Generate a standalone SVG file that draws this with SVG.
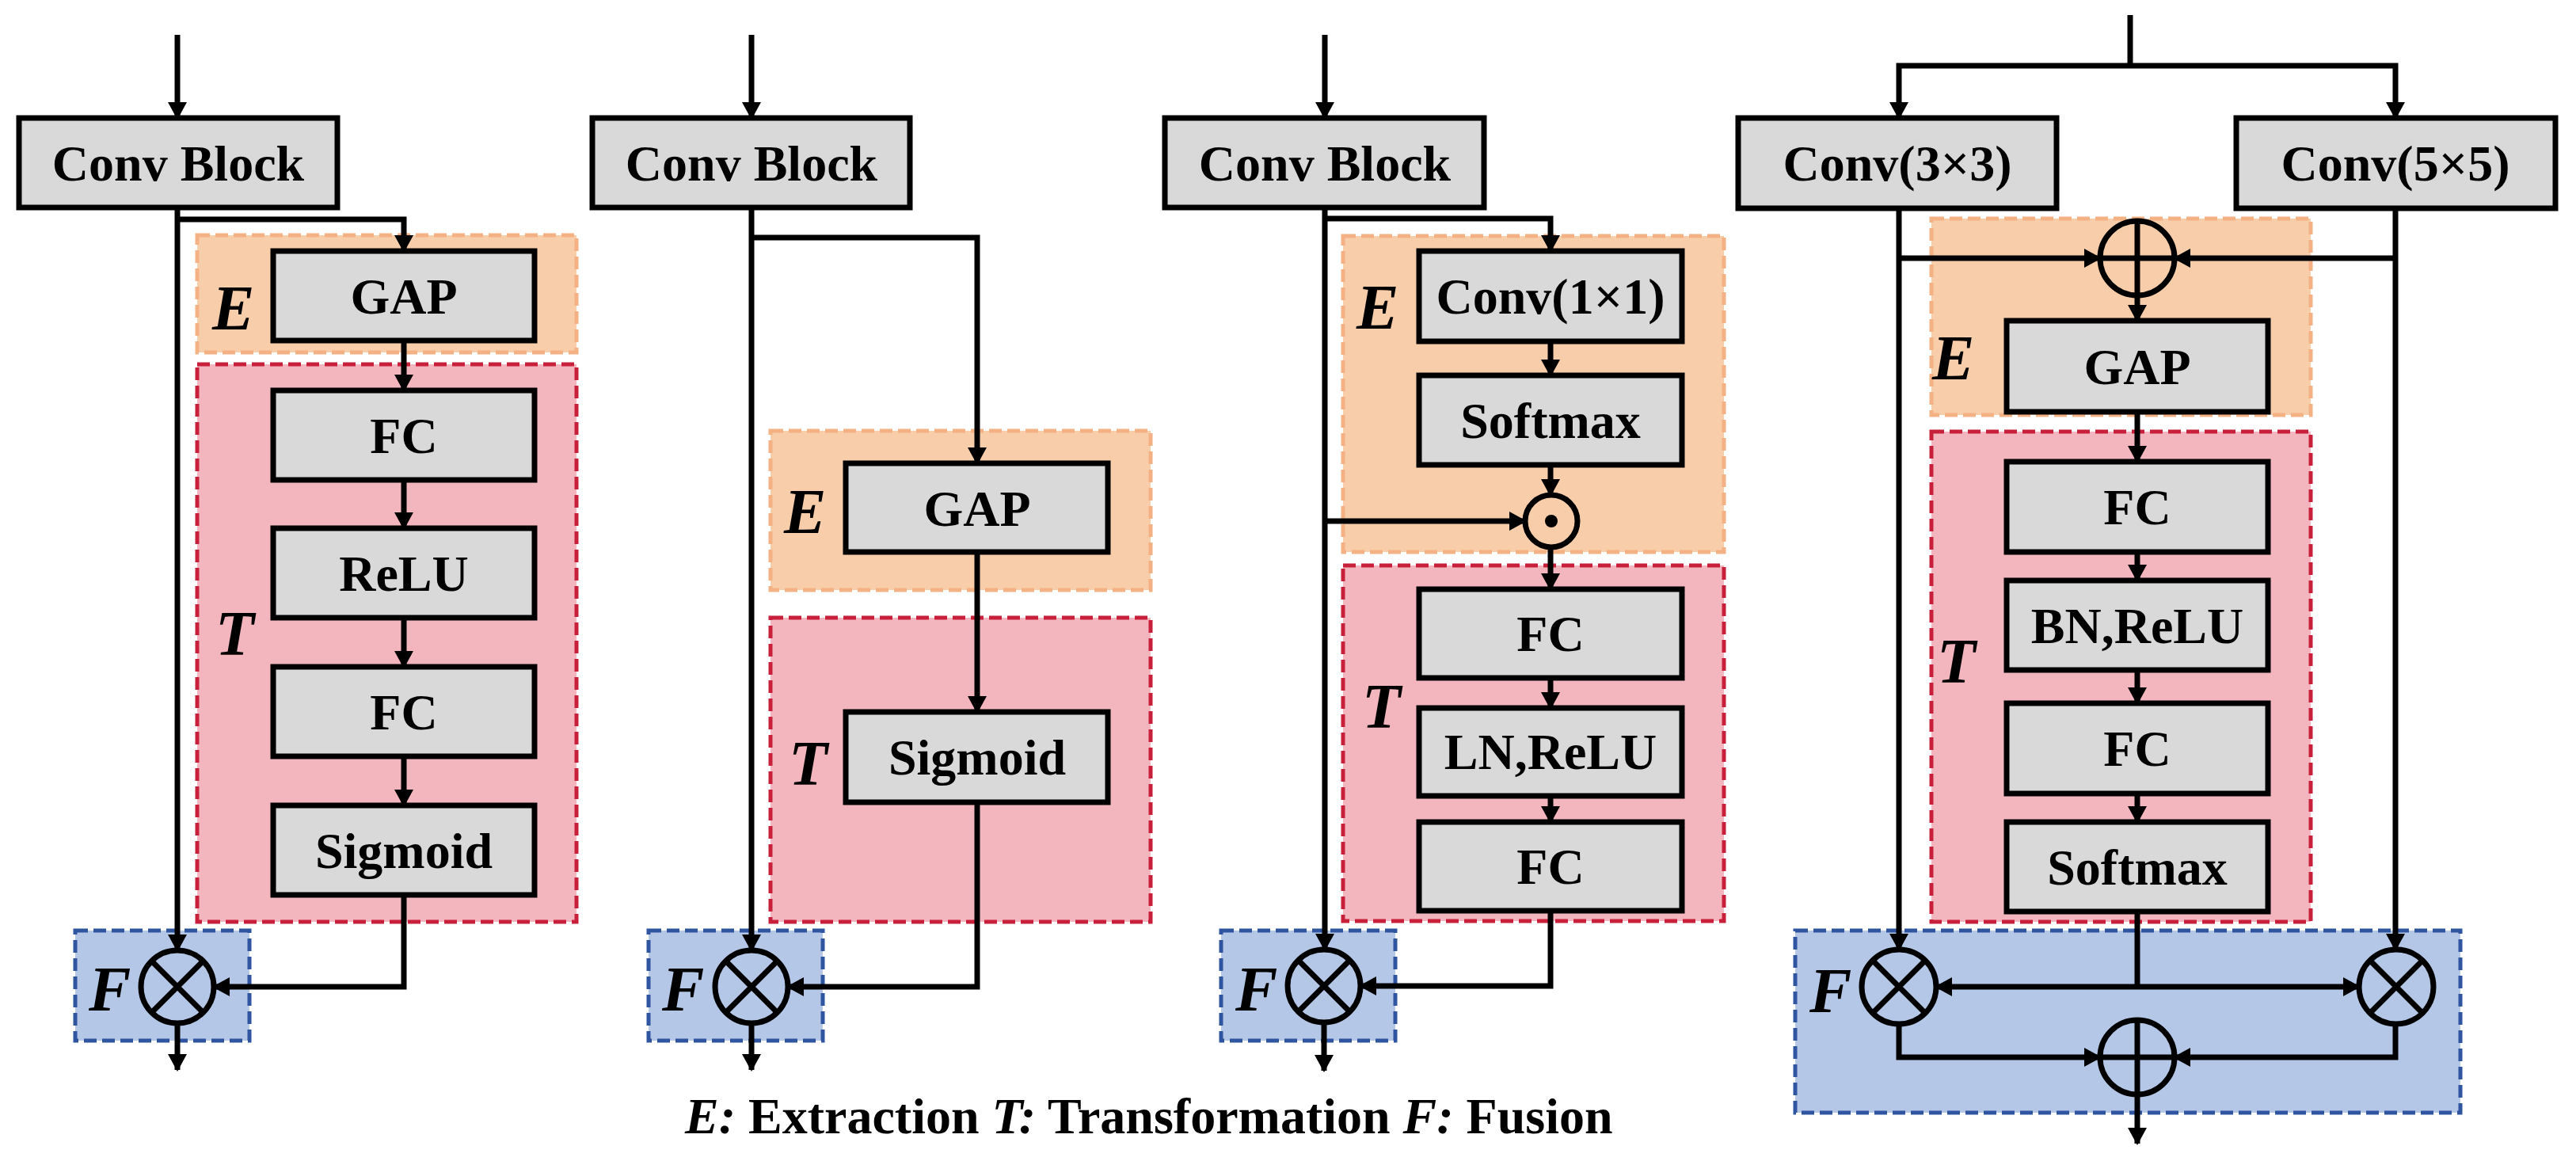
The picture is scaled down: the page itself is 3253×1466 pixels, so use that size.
<svg xmlns="http://www.w3.org/2000/svg" width="3253" height="1466" viewBox="0 0 3253 1466">
<style>
.bx{fill:#d9d9d9;stroke:#000;stroke-width:7}
.e{fill:#f8cdaa;stroke:#f4b183;stroke-width:5;stroke-dasharray:16 7}
.t{fill:#f4b6be;stroke:#c8203a;stroke-width:5;stroke-dasharray:16 7}
.f{fill:#b4c7e7;stroke:#2f55a0;stroke-width:5;stroke-dasharray:16 7}
.ln{fill:none;stroke:#000;stroke-width:7}
.ar{fill:none;stroke:#000;stroke-width:7;marker-end:url(#ah)}
.op{fill:none;stroke:#000;stroke-width:7}
.lb{font-family:"Liberation Serif","Times New Roman",serif;font-weight:bold;font-size:64px;text-anchor:middle}
.it{font-family:"Liberation Serif","Times New Roman",serif;font-weight:bold;font-style:italic;font-size:80px}
.cap{font-family:"Liberation Serif","Times New Roman",serif;font-weight:bold;font-size:64px}
</style>
<defs>
<marker id="ah" markerUnits="userSpaceOnUse" markerWidth="22" markerHeight="24" refX="20" refY="12" orient="auto">
<path d="M0,0 L22,12 L0,24 z" fill="#000"/>
</marker>
</defs>

<g id="regions">
<rect class="e" x="249" y="297" width="479" height="148"/>
<rect class="t" x="249" y="460" width="479" height="704"/>
<rect class="f" x="95" y="1175" width="220" height="139"/>
<rect class="e" x="973" y="544" width="480" height="201"/>
<rect class="t" x="973" y="780" width="480" height="384"/>
<rect class="f" x="819" y="1175" width="220" height="139"/>
<rect class="e" x="1696" y="298" width="481" height="399"/>
<rect class="t" x="1696" y="714" width="481" height="449"/>
<rect class="f" x="1542" y="1175" width="220" height="139"/>
<rect class="e" x="2439" y="276" width="479" height="248"/>
<rect class="t" x="2439" y="545" width="479" height="619"/>
<rect class="f" x="2267" y="1175" width="840" height="230"/>
</g>

<g id="connectors">
<path class="ar" d="M224,44 V149"/>
<path class="ar" d="M224,262 V1200"/>
<path class="ar" d="M224,277 H510 V317"/>
<path class="ar" d="M510,430 V493"/>
<path class="ar" d="M510,606 V667"/>
<path class="ar" d="M510,780 V842"/>
<path class="ar" d="M510,955 V1017"/>
<path class="ar" d="M510,1130 V1246 H270"/>
<path class="ar" d="M224,1292 V1351"/>

<path class="ar" d="M949,44 V149"/>
<path class="ar" d="M949,262 V1200"/>
<path class="ar" d="M949,300 H1234 V585"/>
<path class="ar" d="M1234,697 V899"/>
<path class="ar" d="M1234,1013 V1246 H995"/>
<path class="ar" d="M949,1292 V1351"/>

<path class="ar" d="M1673,44 V149"/>
<path class="ar" d="M1673,262 V1199"/>
<path class="ar" d="M1673,276 H1958 V317"/>
<path class="ar" d="M1958,431 V474"/>
<path class="ar" d="M1958,587 V625"/>
<path class="ar" d="M1673,658 H1926"/>
<path class="ar" d="M1958,691 V744"/>
<path class="ar" d="M1958,856 V894"/>
<path class="ar" d="M1958,1005 V1038"/>
<path class="ar" d="M1958,1150 V1245 H1718"/>
<path class="ar" d="M1672,1291 V1352"/>

<path class="ln" d="M2690,19 V83"/>
<path class="ar" d="M2690,83 H2398 V149"/>
<path class="ar" d="M2690,83 H3025 V149"/>
<path class="ar" d="M2398,263 V1199"/>
<path class="ar" d="M3025,263 V1199"/>
<path class="ar" d="M2398,326 H2652"/>
<path class="ar" d="M3025,326 H2746"/>
<path class="ar" d="M2699,373 V405"/>
<path class="ar" d="M2699,520 V583"/>
<path class="ar" d="M2699,697 V733"/>
<path class="ar" d="M2699,846 V888"/>
<path class="ar" d="M2699,1002 V1038"/>
<path class="ln" d="M2699,1151 V1246"/>
<path class="ar" d="M2699,1246 H2445"/>
<path class="ar" d="M2699,1246 H2979"/>
<path class="ar" d="M2398,1293 V1335 H2652"/>
<path class="ar" d="M3025,1293 V1335 H2746"/>
<path class="ar" d="M2699,1382 V1444"/>
</g>

<g id="panel1">
<rect class="bx" x="24" y="149" width="402" height="113"/><text class="lb" x="225" y="228">Conv Block</text>
<rect class="bx" x="345" y="317" width="330" height="113"/><text class="lb" x="510" y="396">GAP</text>
<rect class="bx" x="345" y="493" width="330" height="113"/><text class="lb" x="510" y="572">FC</text>
<rect class="bx" x="345" y="667" width="330" height="113"/><text class="lb" x="510" y="746">ReLU</text>
<rect class="bx" x="345" y="842" width="330" height="113"/><text class="lb" x="510" y="921">FC</text>
<rect class="bx" x="345" y="1017" width="330" height="113"/><text class="lb" x="510" y="1096">Sigmoid</text>
<circle class="op" cx="224" cy="1246" r="46"/><path class="op" d="M191.5,1213.5 L256.5,1278.5 M256.5,1213.5 L191.5,1278.5"/>
<text class="it" x="268" y="416">E</text><text class="it" x="272" y="827">T</text><text class="it" x="112" y="1276">F</text>
</g>

<g id="panel2">
<rect class="bx" x="748" y="149" width="401" height="113"/><text class="lb" x="949" y="228">Conv Block</text>
<rect class="bx" x="1068" y="585" width="331" height="112"/><text class="lb" x="1234" y="664">GAP</text>
<rect class="bx" x="1068" y="899" width="331" height="114"/><text class="lb" x="1234" y="978">Sigmoid</text>
<circle class="op" cx="949" cy="1246" r="46"/><path class="op" d="M916.5,1213.5 L981.5,1278.5 M981.5,1213.5 L916.5,1278.5"/>
<text class="it" x="990" y="673">E</text><text class="it" x="996" y="991">T</text><text class="it" x="836" y="1276">F</text>
</g>

<g id="panel3">
<rect class="bx" x="1471" y="149" width="403" height="113"/><text class="lb" x="1673" y="228">Conv Block</text>
<rect class="bx" x="1792" y="317" width="332" height="114"/><text class="lb" x="1958" y="396">Conv(1×1)</text>
<rect class="bx" x="1792" y="474" width="332" height="113"/><text class="lb" x="1958" y="553">Softmax</text>
<circle class="op" cx="1959" cy="658" r="33"/><circle cx="1959" cy="658" r="8" fill="#000"/>
<rect class="bx" x="1792" y="744" width="332" height="112"/><text class="lb" x="1958" y="822">FC</text>
<rect class="bx" x="1792" y="894" width="332" height="111"/><text class="lb" x="1958" y="971">LN,ReLU</text>
<rect class="bx" x="1792" y="1038" width="332" height="112"/><text class="lb" x="1958" y="1116">FC</text>
<circle class="op" cx="1672" cy="1245" r="46"/><path class="op" d="M1639.5,1212.5 L1704.5,1277.5 M1704.5,1212.5 L1639.5,1277.5"/>
<text class="it" x="1713" y="415">E</text><text class="it" x="1720" y="919">T</text><text class="it" x="1560" y="1276">F</text>
</g>

<g id="panel4">
<rect class="bx" x="2195" y="149" width="402" height="114"/><text class="lb" x="2396" y="228">Conv(3×3)</text>
<rect class="bx" x="2824" y="149" width="403" height="114"/><text class="lb" x="3025" y="228">Conv(5×5)</text>
<circle class="op" cx="2699" cy="326" r="47"/><path class="op" d="M2652,326 H2746 M2699,279 V373"/>
<rect class="bx" x="2534" y="405" width="330" height="115"/><text class="lb" x="2699" y="485">GAP</text>
<rect class="bx" x="2534" y="583" width="330" height="114"/><text class="lb" x="2699" y="662">FC</text>
<rect class="bx" x="2534" y="733" width="330" height="113"/><text class="lb" x="2699" y="812">BN,ReLU</text>
<rect class="bx" x="2534" y="888" width="330" height="114"/><text class="lb" x="2699" y="967">FC</text>
<rect class="bx" x="2534" y="1038" width="330" height="113"/><text class="lb" x="2699" y="1117">Softmax</text>
<circle class="op" cx="2398" cy="1246" r="47"/><path class="op" d="M2365,1213 L2431,1279 M2431,1213 L2365,1279"/>
<circle class="op" cx="3026" cy="1246" r="47"/><path class="op" d="M2993,1213 L3059,1279 M3059,1213 L2993,1279"/>
<circle class="op" cx="2699" cy="1335" r="47"/><path class="op" d="M2652,1335 H2746 M2699,1288 V1382"/>
<text class="it" x="2440" y="479">E</text><text class="it" x="2446" y="862">T</text><text class="it" x="2285" y="1278">F</text>
</g>

<g id="caption">
<text class="cap" x="865" y="1431"><tspan font-style="italic">E:</tspan> Extraction <tspan font-style="italic">T:</tspan> Transformation <tspan font-style="italic">F:</tspan> Fusion</text>
</g>
</svg>
